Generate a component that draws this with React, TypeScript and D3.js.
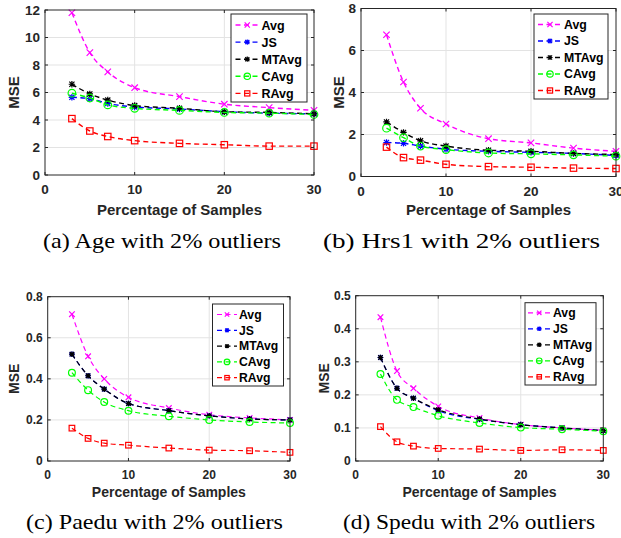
import React from "react";
import * as d3 from "d3";

const percents = [3, 5, 7, 10, 15, 20, 25, 30];
const seriesNames = ["Avg", "JS", "MTAvg", "CAvg", "RAvg"];
const seriesColors = ["#ff00ff", "#0000ff", "#000000", "#00ff00", "#ff0000"];
const markerKinds = ["x", "star", "star", "circle", "square"];
const xTicks = [0, 10, 20, 30];

// (a) Age
const ageAvg = [11.8, 8.9, 7.5, 6.35, 5.7, 5.15, 4.9, 4.7];
const ageJS = [5.65, 5.55, 5.2, 4.95, 4.8, 4.6, 4.5, 4.45];
const ageMTAvg = [6.6, 5.9, 5.45, 5.05, 4.85, 4.6, 4.55, 4.45];
const ageCAvg = [5.95, 5.6, 5.1, 4.85, 4.7, 4.55, 4.5, 4.4];
const ageRAvg = [4.1, 3.2, 2.8, 2.5, 2.3, 2.2, 2.1, 2.1];

// (b) Hrs1
const hrsAvg = [6.75, 4.5, 3.25, 2.5, 1.8, 1.6, 1.35, 1.2];
const hrsJS = [1.62, 1.58, 1.45, 1.3, 1.2, 1.15, 1.1, 1.0];
const hrsMTAvg = [2.6, 2.1, 1.7, 1.45, 1.25, 1.2, 1.1, 1.05];
const hrsCAvg = [2.3, 1.85, 1.45, 1.28, 1.12, 1.08, 1.03, 0.97];
const hrsRAvg = [1.4, 0.9, 0.78, 0.58, 0.47, 0.44, 0.4, 0.38];

// (c) Paedu
const paeAvg = [0.715, 0.51, 0.4, 0.31, 0.258, 0.225, 0.21, 0.2];
const paeJS = [0.52, 0.415, 0.35, 0.28, 0.245, 0.22, 0.205, 0.2];
const paeMTAvg = [0.52, 0.415, 0.35, 0.28, 0.245, 0.22, 0.205, 0.2];
const paeCAvg = [0.43, 0.345, 0.287, 0.245, 0.218, 0.2, 0.19, 0.185];
const paeRAvg = [0.16, 0.11, 0.087, 0.077, 0.063, 0.053, 0.05, 0.042];

// (d) Spedu
const speAvg = [0.435, 0.272, 0.22, 0.165, 0.13, 0.11, 0.1, 0.093];
const speJS = [0.313, 0.22, 0.19, 0.152, 0.126, 0.11, 0.1, 0.092];
const speMTAvg = [0.313, 0.22, 0.19, 0.155, 0.127, 0.11, 0.1, 0.092];
const speCAvg = [0.263, 0.185, 0.163, 0.137, 0.115, 0.101, 0.096, 0.09];
const speRAvg = [0.104, 0.058, 0.045, 0.038, 0.036, 0.032, 0.034, 0.032];

const panels = [
  {
    caption: "(a) Age with 2% outliers",
    series: [ageAvg, ageJS, ageMTAvg, ageCAvg, ageRAvg],
    yMax: 12, yStep: 2,
    box: { l: 45, t: 10, r: 314, b: 175 },
    tickFont: 13.5, labelFont: 15, legendFont: 12.5,
    msx: 14, xTickY: 194, xLabelY: 215,
    legend: { x: 231, y: 14, w: 76, h: 88, row0: 25, step: 17.1, l0: 235.5, l1: 259, tx: 261.5 },
    cap: { x: 162, y: 248, w: 238 },
    mk: 3.2, lw: 1.4,
  },
  {
    caption: "(b) Hrs1 with 2% outliers",
    series: [hrsAvg, hrsJS, hrsMTAvg, hrsCAvg, hrsRAvg],
    yMax: 8, yStep: 2,
    box: { l: 361, t: 8.5, r: 616, b: 176.5 },
    tickFont: 13.5, labelFont: 15, legendFont: 12.3,
    msx: 339, xTickY: 196, xLabelY: 215,
    legend: { x: 534, y: 14, w: 74, h: 85, row0: 24.5, step: 16.5, l0: 538, l1: 562, tx: 564 },
    cap: { x: 461.5, y: 248, w: 277 },
    mk: 3.2, lw: 1.4,
  },
  {
    caption: "(c) Paedu with 2% outliers",
    series: [paeAvg, paeJS, paeMTAvg, paeCAvg, paeRAvg],
    yMax: 0.8, yStep: 0.2,
    box: { l: 47.7, t: 296.7, r: 290, b: 461 },
    tickFont: 12, labelFont: 14, legendFont: 12.2,
    msx: 14, xTickY: 479, xLabelY: 496.5,
    legend: { x: 212.5, y: 304, w: 71, h: 82, row0: 314.5, step: 15.8, l0: 217, l1: 237, tx: 239 },
    cap: { x: 154.5, y: 529, w: 257 },
    mk: 2.8, lw: 1.2,
  },
  {
    caption: "(d) Spedu with 2% outliers",
    series: [speAvg, speJS, speMTAvg, speCAvg, speRAvg],
    yMax: 0.5, yStep: 0.1,
    box: { l: 355.7, t: 295.7, r: 603.3, b: 461 },
    tickFont: 12, labelFont: 14, legendFont: 12.2,
    msx: 324, xTickY: 479, xLabelY: 496.5,
    legend: { x: 525, y: 302.7, w: 71, h: 82.3, row0: 312.8, step: 16, l0: 528, l1: 550.5, tx: 553 },
    cap: { x: 469, y: 529, w: 252 },
    mk: 2.8, lw: 1.2,
  },
];

const axisColor = "#262626";
const sans = "'Liberation Sans', Arial, Helvetica, sans-serif";
const serif = "'Liberation Serif', 'Times New Roman', serif";

function Marker({ kind, x, y, color, s }: any) {
  const sw = 1.2;
  if (kind === "x") {
    return (
      <path d={`M${x - s},${y - s}L${x + s},${y + s}M${x - s},${y + s}L${x + s},${y - s}`}
        stroke={color} strokeWidth={sw} fill="none" />
    );
  }
  if (kind === "star") {
    const d = s * 0.8;
    return (
      <path d={`M${x - d},${y - d}L${x + d},${y + d}M${x - d},${y + d}L${x + d},${y - d}M${x - s},${y}L${x + s},${y}M${x},${y - s}L${x},${y + s}`}
        stroke={color} strokeWidth={sw} fill="none" />
    );
  }
  if (kind === "circle") {
    return <circle cx={x} cy={y} r={s + 0.6} stroke={color} strokeWidth={sw} fill="none" />;
  }
  return <rect x={x - s} y={y - s} width={2 * s} height={2 * s} stroke={color} strokeWidth={sw} fill="none" />;
}

function Panel({ p }: any) {
  const { box } = p;
  const x = d3.scaleLinear().domain([0, 30]).range([box.l, box.r]);
  const y = d3.scaleLinear().domain([0, p.yMax]).range([box.b, box.t]);
  const yTicks = d3.range(0, p.yMax + p.yStep / 2, p.yStep).map((v) => +v.toFixed(2));
  const line = d3.line<number>().x((_, i) => x(percents[i])).y((v) => y(v)).curve(d3.curveMonotoneX);
  const tl = 3;
  const lg = p.legend;

  return (
    <g>
      <rect x={box.l} y={box.t} width={box.r - box.l} height={box.b - box.t} fill="#fff" />
      {/* grid */}
      {xTicks.slice(1, -1).map((t) => (
        <line key={"gx" + t} x1={x(t)} x2={x(t)} y1={box.t} y2={box.b} stroke="#e3e3e3" strokeWidth={1} />
      ))}
      {yTicks.slice(1, -1).map((t) => (
        <line key={"gy" + t} x1={box.l} x2={box.r} y1={y(t)} y2={y(t)} stroke="#e3e3e3" strokeWidth={1} />
      ))}
      {/* series */}
      {p.series.map((vals: number[], si: number) => (
        <g key={"s" + si}>
          <path d={line(vals) || ""} fill="none" stroke={seriesColors[si]} strokeWidth={p.lw} strokeDasharray="5,3.5" />
          {vals.map((v, i) => (
            <Marker key={i} kind={markerKinds[si]} x={x(percents[i])} y={y(v)} color={seriesColors[si]} s={p.mk} />
          ))}
        </g>
      ))}
      {/* box and ticks */}
      <rect x={box.l} y={box.t} width={box.r - box.l} height={box.b - box.t} fill="none" stroke={axisColor} strokeWidth={1} />
      {xTicks.map((t) => (
        <g key={"tx" + t}>
          <line x1={x(t)} x2={x(t)} y1={box.b} y2={box.b - tl} stroke={axisColor} />
          <line x1={x(t)} x2={x(t)} y1={box.t} y2={box.t + tl} stroke={axisColor} />
          <text x={x(t)} y={p.xTickY} textAnchor="middle" fontFamily={sans} fontWeight="bold"
            fontSize={p.tickFont} fill={axisColor}>{t}</text>
        </g>
      ))}
      {yTicks.map((t) => (
        <g key={"ty" + t}>
          <line x1={box.l} x2={box.l + tl} y1={y(t)} y2={y(t)} stroke={axisColor} />
          <line x1={box.r} x2={box.r - tl} y1={y(t)} y2={y(t)} stroke={axisColor} />
          <text x={box.l - 5} y={y(t)} dy="0.36em" textAnchor="end" fontFamily={sans} fontWeight="bold"
            fontSize={p.tickFont} fill={axisColor}>{t}</text>
        </g>
      ))}
      <text x={(box.l + box.r) / 2} y={p.xLabelY} textAnchor="middle" fontFamily={sans} fontWeight="bold"
        fontSize={p.labelFont} fill={axisColor}>Percentage of Samples</text>
      <text transform={`translate(${p.msx},${(box.t + box.b) / 2}) rotate(-90)`} dy="0.36em" textAnchor="middle"
        fontFamily={sans} fontWeight="bold" fontSize={p.labelFont} fill={axisColor}>MSE</text>
      {/* legend */}
      <rect x={lg.x} y={lg.y} width={lg.w} height={lg.h} fill="#fff" stroke={axisColor} strokeWidth={1} />
      {seriesNames.map((name, si) => {
        const ry = lg.row0 + si * lg.step;
        return (
          <g key={"lg" + si}>
            <line x1={lg.l0} x2={lg.l1} y1={ry} y2={ry} stroke={seriesColors[si]} strokeWidth={p.lw} strokeDasharray="5,3.5" />
            <Marker kind={markerKinds[si]} x={(lg.l0 + lg.l1) / 2} y={ry} color={seriesColors[si]} s={p.mk - 0.6} />
            <text x={lg.tx} y={ry} dy="0.36em" fontFamily={sans} fontWeight="bold" fontSize={p.legendFont}
              fill="#000">{name}</text>
          </g>
        );
      })}
      <text x={p.cap.x} y={p.cap.y} textAnchor="middle" fontFamily={serif} fontSize={22}
        textLength={p.cap.w} lengthAdjust="spacingAndGlyphs" fill="#000">{p.caption}</text>
    </g>
  );
}

export default function App() {
  return (
    <svg width={621} height={538} style={{ position: "absolute", left: 0, top: 0, background: "#fff" }}>
      <rect width={621} height={538} fill="#fff" />
      {panels.map((p, i) => (
        <Panel key={i} p={p} />
      ))}
    </svg>
  );
}
